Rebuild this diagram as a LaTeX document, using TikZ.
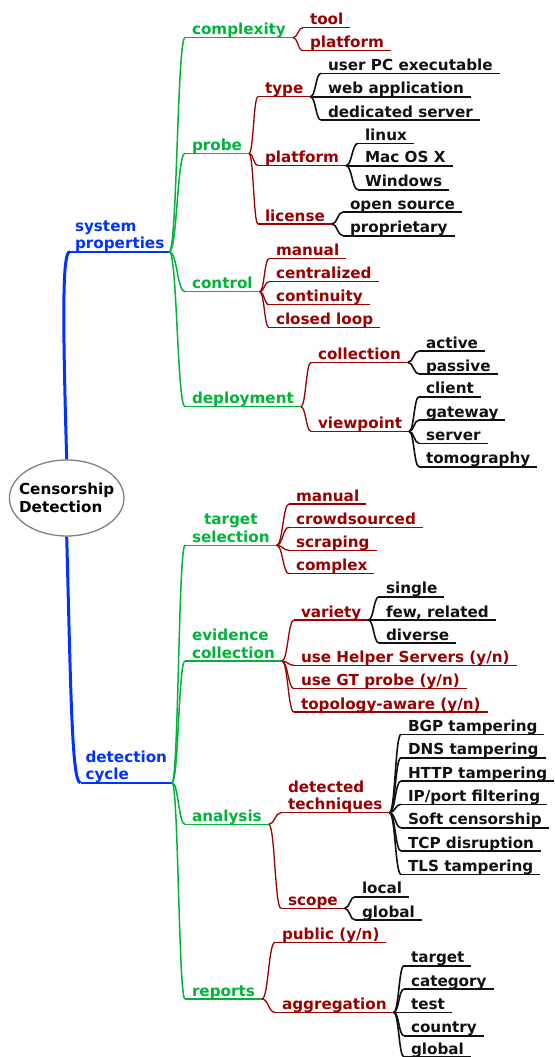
\documentclass[tikz,border=0pt]{standalone}
\usepackage{fontspec}
\setmainfont{DejaVu Sans}
\usetikzlibrary{calc,shapes.geometric}

\definecolor{cblue}{HTML}{0033FF}
\definecolor{cgreen}{HTML}{00B439}
\definecolor{cred}{HTML}{990000}
\definecolor{cblack}{HTML}{111111}
\definecolor{cgray}{HTML}{808080}

\newcommand\mmfont{\fontsize{15.2bp}{17.5bp}\selectfont\bfseries}

% a mind-map item: text sitting on an underline of its branch colour
% #1 extra options, #2 level style, #3 name, #4 x, #5 y of underline, #6 text
\newcommand\mmitem[6][]{%
  \node[#2,#1] (#3) at (#4,#5) {#6};
  \draw[#2line] (#3.south west) -- (#3.south east);}

% an S-shaped branch from the end of one underline to the start of another
\newcommand\mmlink[3]{%
  \draw[#1] let \p1=(#2.south east), \p2=(#3.south west) in
    (\p1) .. controls ({0.5*\x1+0.5*\x2},\y1) and ({0.5*\x1+0.5*\x2},\y2) .. (\p2);}

\tikzset{
  mmbase/.style={anchor=south west, inner xsep=7bp, inner ysep=3bp,
    text depth=0pt, outer sep=0pt, font=\mmfont},
  lvlA/.style={mmbase, text=cblue, inner xsep=5bp},
  lvlB/.style={mmbase, text=cgreen},
  lvlC/.style={mmbase, text=cred},
  lvlD/.style={mmbase, text=cblack},
  lvlAline/.style={draw=cblue, line width=1.8bp},
  lvlBline/.style={draw=cgreen, line width=1.5bp},
  lvlCline/.style={draw=cred, line width=1.3bp},
  lvlDline/.style={draw=cblack, line width=1.6bp},
  rootedge/.style={draw=cblue, line width=3bp},
}

\begin{document}
\begin{tikzpicture}[x=1bp,y=-1bp]
\useasboundingbox (0,0) rectangle (555,1057);

% central topic
\node[draw=cgray, line width=1.3bp, fill=white, ellipse, minimum width=114.6bp,
      minimum height=76bp, inner sep=0pt] (root) at (66.7,498) {};
\node[align=left, font=\mmfont, text=black, inner sep=0pt] (roottext) at (root.center)
  {Censorship\\Detection};

% first level
\mmitem[align=left]{lvlA}{sp}{70}{251.7}{system\\properties}
\mmitem[align=left]{lvlA}{dc}{80.5}{782.7}{detection\\cycle}
\draw[rootedge] (root.north) .. controls (62,300) and (63,251.7) .. (sp.south west);
\draw[rootedge] (root.south) .. controls (71,700) and (72,782.7) .. (dc.south west);

% second level
\mmitem{lvlB}{cx}{185}{37.7}{complexity}
\mmitem{lvlB}{pr}{185}{153.3}{probe}
\mmitem{lvlB}{ct}{185}{291.7}{control}
\mmitem{lvlB}{dp}{185}{406.7}{deployment}
\mmitem[align=center]{lvlB}{ts}{185}{545.3}{target\\selection}
\mmitem[align=left]{lvlB}{ec}{185}{661}{evidence\\collection}
\mmitem{lvlB}{an}{185}{824.3}{analysis}
\mmitem{lvlB}{rp}{185}{999}{reports}
\foreach \c in {cx,pr,ct,dp} {\mmlink{lvlBline}{sp}{\c}}
\foreach \c in {ts,ec,an,rp} {\mmlink{lvlBline}{dc}{\c}}

% complexity
\mmitem{lvlC}{cxtool}{303}{27.7}{tool}
\mmitem{lvlC}{cxplat}{303}{50.7}{platform}
\foreach \c in {cxtool,cxplat} {\mmlink{lvlCline}{cx}{\c}}

% probe
\mmitem{lvlC}{prtype}{258}{96.7}{type}
\mmitem{lvlC}{prplat}{258}{165.7}{platform}
\mmitem{lvlC}{prlic}{258}{224}{license}
\foreach \c in {prtype,prplat,prlic} {\mmlink{lvlCline}{pr}{\c}}

\mmitem{lvlD}{tyA}{321}{73.3}{user PC executable}
\mmitem{lvlD}{tyB}{321}{96.7}{web application}
\mmitem{lvlD}{tyC}{321}{120}{dedicated server}
\foreach \c in {tyA,tyB,tyC} {\mmlink{lvlDline}{prtype}{\c}}

\mmitem{lvlD}{plA}{358}{143.3}{linux}
\mmitem{lvlD}{plB}{358}{165.7}{Mac OS X}
\mmitem{lvlD}{plC}{358}{189.7}{Windows}
\foreach \c in {plA,plB,plC} {\mmlink{lvlDline}{prplat}{\c}}

\mmitem{lvlD}{liA}{343}{212}{open source}
\mmitem{lvlD}{liB}{343}{235.7}{proprietary}
\foreach \c in {liA,liB} {\mmlink{lvlDline}{prlic}{\c}}

% control
\mmitem{lvlC}{ctA}{269}{258.7}{manual}
\mmitem{lvlC}{ctB}{269}{281.7}{centralized}
\mmitem{lvlC}{ctC}{269}{304.7}{continuity}
\mmitem{lvlC}{ctD}{269}{327.7}{closed loop}
\foreach \c in {ctA,ctB,ctC,ctD} {\mmlink{lvlCline}{ct}{\c}}

% deployment
\mmitem{lvlC}{dpcol}{311}{362.3}{collection}
\mmitem{lvlC}{dpview}{311}{431.3}{viewpoint}
\foreach \c in {dpcol,dpview} {\mmlink{lvlCline}{dp}{\c}}

\mmitem{lvlD}{coA}{419}{351}{active}
\mmitem{lvlD}{coB}{419}{374}{passive}
\foreach \c in {coA,coB} {\mmlink{lvlDline}{dpcol}{\c}}

\mmitem{lvlD}{vpA}{419}{396.7}{client}
\mmitem{lvlD}{vpB}{419}{420}{gateway}
\mmitem{lvlD}{vpC}{419}{443.3}{server}
\mmitem{lvlD}{vpD}{419}{466.7}{tomography}
\foreach \c in {vpA,vpB,vpC,vpD} {\mmlink{lvlDline}{dpview}{\c}}

% target selection
\mmitem{lvlC}{tsA}{289}{504}{manual}
\mmitem{lvlC}{tsB}{289}{527.3}{crowdsourced}
\mmitem{lvlC}{tsC}{289}{550.3}{scraping}
\mmitem{lvlC}{tsD}{289}{573.7}{complex}
\foreach \c in {tsA,tsB,tsC,tsD} {\mmlink{lvlCline}{ts}{\c}}

% evidence collection
\mmitem{lvlC}{ecvar}{294}{620}{variety}
\mmitem{lvlC}{ecB}{294}{665.3}{use Helper Servers (y/n)}
\mmitem{lvlC}{ecC}{294}{688.7}{use GT probe (y/n)}
\mmitem{lvlC}{ecD}{294}{712}{topology-aware (y/n)}
\foreach \c in {ecvar,ecB,ecC,ecD} {\mmlink{lvlCline}{ec}{\c}}

\mmitem{lvlD}{vaA}{379}{596.7}{single}
\mmitem{lvlD}{vaB}{379}{620}{few, related}
\mmitem{lvlD}{vaC}{379}{643}{diverse}
\foreach \c in {vaA,vaB,vaC} {\mmlink{lvlDline}{ecvar}{\c}}

% analysis
\mmitem[align=left]{lvlC}{andet}{281}{812.7}{detected\\techniques}
\mmitem{lvlC}{anscope}{281}{908.3}{scope}
\foreach \c in {andet,anscope} {\mmlink{lvlCline}{an}{\c}}

\mmitem{lvlD}{dtA}{401}{734.3}{BGP tampering}
\mmitem{lvlD}{dtB}{401}{757.7}{DNS tampering}
\mmitem{lvlD}{dtC}{401}{781}{HTTP tampering}
\mmitem{lvlD}{dtD}{401}{804.3}{IP/port filtering}
\mmitem{lvlD}{dtE}{401}{827.7}{Soft censorship}
\mmitem{lvlD}{dtF}{401}{851}{TCP disruption}
\mmitem{lvlD}{dtG}{401}{874.3}{TLS tampering}
\foreach \c in {dtA,dtB,dtC,dtD,dtE,dtF,dtG} {\mmlink{lvlDline}{andet}{\c}}

\mmitem{lvlD}{scA}{355}{896.7}{local}
\mmitem{lvlD}{scB}{355}{920}{global}
\foreach \c in {scA,scB} {\mmlink{lvlDline}{anscope}{\c}}

% reports
\mmitem{lvlC}{rppub}{275}{942.3}{public (y/n)}
\mmitem{lvlC}{rpagg}{275}{1012.3}{aggregation}
\foreach \c in {rppub,rpagg} {\mmlink{lvlCline}{rp}{\c}}

\mmitem{lvlD}{agA}{404}{965.7}{target}
\mmitem{lvlD}{agB}{404}{989}{category}
\mmitem{lvlD}{agC}{404}{1012.3}{test}
\mmitem{lvlD}{agD}{404}{1035.7}{country}
\mmitem{lvlD}{agE}{404}{1057}{global}
\foreach \c in {agA,agB,agC,agD,agE} {\mmlink{lvlDline}{rpagg}{\c}}
\end{tikzpicture}
\end{document}
